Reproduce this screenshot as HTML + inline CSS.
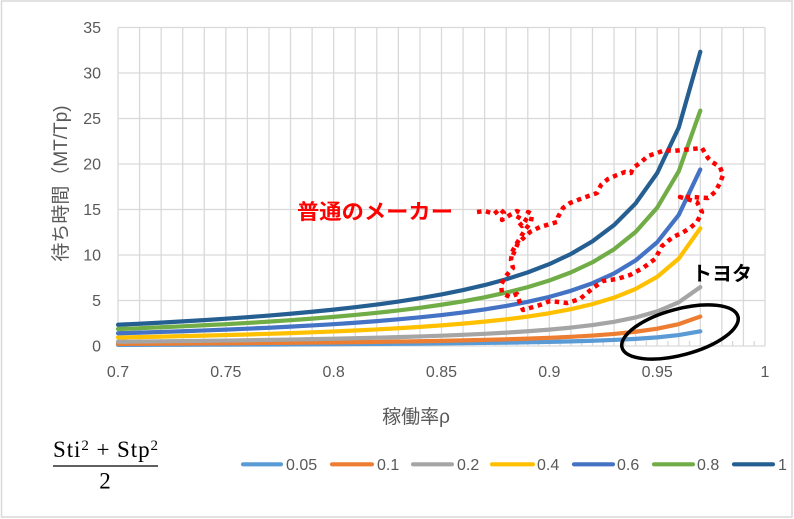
<!DOCTYPE html>
<html>
<head>
<meta charset="utf-8">
<style>
html,body{margin:0;padding:0;background:#fff;}
svg{display:block;}
.t{font-family:"Liberation Sans","Noto Sans CJK JP",sans-serif;fill:#595959;}
</style>
</head>
<body>
<svg width="794" height="519" viewBox="0 0 794 519" xmlns="http://www.w3.org/2000/svg">
<rect x="0" y="0" width="794" height="519" fill="#fff"/>
<rect x="1.5" y="1" width="790.5" height="516" fill="none" stroke="#D9D9D9" stroke-width="1.5"/>

<!-- gridlines -->
<path fill="none" stroke="#D9D9D9" stroke-width="1.3" d="
M118,27.5V346 M139.57,27.5V346 M161.13,27.5V346 M182.7,27.5V346 M204.27,27.5V346 M225.83,27.5V346 M247.4,27.5V346 M268.97,27.5V346 M290.53,27.5V346 M312.1,27.5V346 M333.67,27.5V346 M355.23,27.5V346 M376.8,27.5V346 M398.37,27.5V346 M419.93,27.5V346 M441.5,27.5V346 M463.07,27.5V346 M484.63,27.5V346 M506.2,27.5V346 M527.77,27.5V346 M549.33,27.5V346 M570.9,27.5V346 M592.47,27.5V346 M614.03,27.5V346 M635.6,27.5V346 M657.17,27.5V346 M678.73,27.5V346 M700.3,27.5V346 M721.87,27.5V346 M743.43,27.5V346 M765,27.5V346
M118,27.5H765 M118,73H765 M118,118.5H765 M118,164H765 M118,209.5H765 M118,255H765 M118,300.5H765 M118,346H765"/>
<!-- minor ticks -->
<path fill="none" stroke="#D9D9D9" stroke-width="1.3" d="
M128.78,341V346 M150.35,341V346 M171.92,341V346 M193.48,341V346 M215.05,341V346 M236.62,341V346 M258.18,341V346 M279.75,341V346 M301.32,341V346 M322.88,341V346 M344.45,341V346 M366.02,341V346 M387.58,341V346 M409.15,341V346 M430.72,341V346 M452.28,341V346 M473.85,341V346 M495.42,341V346 M516.98,341V346 M538.55,341V346 M560.12,341V346 M581.68,341V346 M603.25,341V346 M624.82,341V346 M646.38,341V346 M667.95,341V346 M689.52,341V346 M711.08,341V346 M732.65,341V346 M754.22,341V346"/>

<!-- y tick labels -->
<g class="t" font-size="16" text-anchor="end">
<text x="101" y="33">35</text>
<text x="101" y="78.5">30</text>
<text x="101" y="124">25</text>
<text x="101" y="169.5">20</text>
<text x="101" y="215">15</text>
<text x="101" y="260.5">10</text>
<text x="101" y="306">5</text>
<text x="101" y="351.5">0</text>
</g>
<!-- x tick labels -->
<g class="t" font-size="16" text-anchor="middle">
<text x="118" y="377">0.7</text>
<text x="225.83" y="377">0.75</text>
<text x="333.67" y="377">0.8</text>
<text x="441.5" y="377">0.85</text>
<text x="549.33" y="377">0.9</text>
<text x="657.17" y="377">0.95</text>
<text x="765" y="377">1</text>
</g>

<!-- axis titles -->
<text class="t" font-size="19" text-anchor="middle" transform="translate(67,183.5) rotate(-90)">待ち時間（MT/Tp)</text>
<text class="t" font-size="19" text-anchor="middle" x="416" y="423">稼働率ρ</text>

<!-- series -->
<g fill="none" stroke-width="4.2" stroke-linejoin="round" stroke-linecap="round">
<polyline vector-effect="non-scaling-stroke" stroke="#5B9BD5" transform="translate(118 346) scale(21.5667 -0.455)" points="0,2.3333 1,2.4483 2,2.5714 3,2.7037 4,2.8462 5,3 6,3.1667 7,3.3478 8,3.5455 9,3.7619 10,4 11,4.2632 12,4.5556 13,4.8824 14,5.25 15,5.6667 16,6.1429 17,6.6923 18,7.3333 19,8.0909 20,9 21,10.1111 22,11.5 23,13.2857 24,15.6667 25,19 26,24 27,32.3333"/>
<polyline vector-effect="non-scaling-stroke" stroke="#ED7D31" transform="translate(118 346) scale(21.5667 -0.91)" points="0,2.3333 1,2.4483 2,2.5714 3,2.7037 4,2.8462 5,3 6,3.1667 7,3.3478 8,3.5455 9,3.7619 10,4 11,4.2632 12,4.5556 13,4.8824 14,5.25 15,5.6667 16,6.1429 17,6.6923 18,7.3333 19,8.0909 20,9 21,10.1111 22,11.5 23,13.2857 24,15.6667 25,19 26,24 27,32.3333"/>
<polyline vector-effect="non-scaling-stroke" stroke="#A5A5A5" transform="translate(118 346) scale(21.5667 -1.82)" points="0,2.3333 1,2.4483 2,2.5714 3,2.7037 4,2.8462 5,3 6,3.1667 7,3.3478 8,3.5455 9,3.7619 10,4 11,4.2632 12,4.5556 13,4.8824 14,5.25 15,5.6667 16,6.1429 17,6.6923 18,7.3333 19,8.0909 20,9 21,10.1111 22,11.5 23,13.2857 24,15.6667 25,19 26,24 27,32.3333"/>
<polyline vector-effect="non-scaling-stroke" stroke="#FFC000" transform="translate(118 346) scale(21.5667 -3.64)" points="0,2.3333 1,2.4483 2,2.5714 3,2.7037 4,2.8462 5,3 6,3.1667 7,3.3478 8,3.5455 9,3.7619 10,4 11,4.2632 12,4.5556 13,4.8824 14,5.25 15,5.6667 16,6.1429 17,6.6923 18,7.3333 19,8.0909 20,9 21,10.1111 22,11.5 23,13.2857 24,15.6667 25,19 26,24 27,32.3333"/>
<polyline vector-effect="non-scaling-stroke" stroke="#4472C4" transform="translate(118 346) scale(21.5667 -5.46)" points="0,2.3333 1,2.4483 2,2.5714 3,2.7037 4,2.8462 5,3 6,3.1667 7,3.3478 8,3.5455 9,3.7619 10,4 11,4.2632 12,4.5556 13,4.8824 14,5.25 15,5.6667 16,6.1429 17,6.6923 18,7.3333 19,8.0909 20,9 21,10.1111 22,11.5 23,13.2857 24,15.6667 25,19 26,24 27,32.3333"/>
<polyline vector-effect="non-scaling-stroke" stroke="#70AD47" transform="translate(118 346) scale(21.5667 -7.28)" points="0,2.3333 1,2.4483 2,2.5714 3,2.7037 4,2.8462 5,3 6,3.1667 7,3.3478 8,3.5455 9,3.7619 10,4 11,4.2632 12,4.5556 13,4.8824 14,5.25 15,5.6667 16,6.1429 17,6.6923 18,7.3333 19,8.0909 20,9 21,10.1111 22,11.5 23,13.2857 24,15.6667 25,19 26,24 27,32.3333"/>
<polyline vector-effect="non-scaling-stroke" stroke="#255E91" transform="translate(118 346) scale(21.5667 -9.1)" points="0,2.3333 1,2.4483 2,2.5714 3,2.7037 4,2.8462 5,3 6,3.1667 7,3.3478 8,3.5455 9,3.7619 10,4 11,4.2632 12,4.5556 13,4.8824 14,5.25 15,5.6667 16,6.1429 17,6.6923 18,7.3333 19,8.0909 20,9 21,10.1111 22,11.5 23,13.2857 24,15.6667 25,19 26,24 27,32.3333"/>
</g>

<!-- red dotted scribble -->
<polyline fill="none" stroke="#FF0000" stroke-width="4.5" stroke-dasharray="4.5 4.5" stroke-linejoin="round" points="
477,212 485,211 494,214 500,209 504,213 502,220 510,215 517,211 521,213 517,220 522,226 527,218 528,212 532,214 531,222 525,230 517,243 512,252 511,260 513,268 505,277 501,285 502,293 510,297 517,294 520,303 523,310 540,305 550,301 567,303 580,299 593,288 603,281 617,279 630,275 643,268 655,259 662,246 673,237 682,233 690,228 697,222 702,212 697,202 680,197 692,197 708,198 715,192 720,183 723,175 720,167 712,162 708,158 702,148 692,149 682,150 673,151 665,150 657,153 648,156 640,163 633,168 631,173 625,172 617,175 608,179 601,185 597,193 583,198 570,203 563,208 558,217 557,222 540,227 530,232 518,243 513,255"/>

<!-- annotations -->
<text x="297" y="219" font-family="Liberation Sans, Noto Sans CJK JP, sans-serif" font-size="21" font-weight="bold" fill="#FF0000" textLength="156" lengthAdjust="spacingAndGlyphs">普通のメーカー</text>
<text x="692" y="280.5" font-family="Liberation Sans, Noto Sans CJK JP, sans-serif" font-size="20" font-weight="bold" fill="#000" textLength="60" lengthAdjust="spacingAndGlyphs">トヨタ</text>
<ellipse cx="680" cy="332" rx="60" ry="23" fill="none" stroke="#000" stroke-width="3.5" transform="rotate(-15 680 332)"/>

<!-- formula -->
<text x="53" y="457" font-family="Liberation Serif, serif" font-size="23" fill="#000" textLength="105" lengthAdjust="spacing">Sti<tspan font-size="15" dy="-7">2</tspan><tspan dy="7"> + Stp</tspan><tspan font-size="15" dy="-7">2</tspan></text>
<line x1="53" y1="466" x2="158" y2="466" stroke="#000" stroke-width="1.3"/>
<text x="105" y="488.5" font-family="Liberation Serif, serif" font-size="23" fill="#000" text-anchor="middle">2</text>

<!-- legend -->
<g stroke-width="4.2" stroke-linecap="round">
<line x1="243" y1="464.3" x2="281" y2="464.3" stroke="#5B9BD5"/>
<line x1="332" y1="464.3" x2="372" y2="464.3" stroke="#ED7D31"/>
<line x1="413" y1="464.3" x2="452" y2="464.3" stroke="#A5A5A5"/>
<line x1="492" y1="464.3" x2="533" y2="464.3" stroke="#FFC000"/>
<line x1="574" y1="464.3" x2="613" y2="464.3" stroke="#4472C4"/>
<line x1="654" y1="464.3" x2="693" y2="464.3" stroke="#70AD47"/>
<line x1="734" y1="464.3" x2="773" y2="464.3" stroke="#255E91"/>
</g>
<g class="t" font-size="16">
<text x="286" y="470">0.05</text>
<text x="377" y="470">0.1</text>
<text x="457" y="470">0.2</text>
<text x="537" y="470">0.4</text>
<text x="617" y="470">0.6</text>
<text x="697" y="470">0.8</text>
<text x="778" y="470">1</text>
</g>
</svg>
</body>
</html>
